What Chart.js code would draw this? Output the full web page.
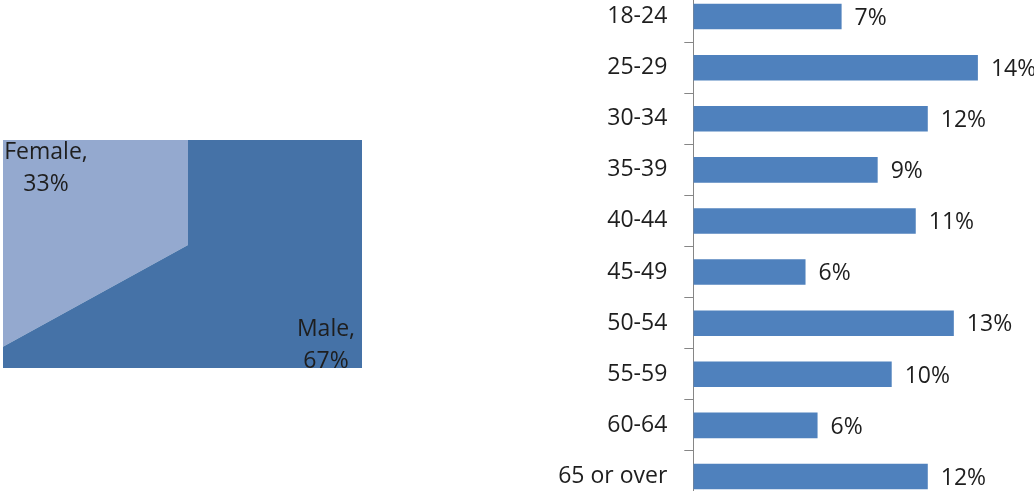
<!DOCTYPE html>
<html>
<head>
<meta charset="utf-8">
<script src="https://cdn.jsdelivr.net/npm/chart.js@4/dist/chart.umd.min.js"></script>
<style>
  html, body { margin: 0; padding: 0; background: #fff; overflow: hidden; }
  body { width: 1034px; height: 491px; position: relative; }
  #pieBox { position: absolute; left: 3px; top: 140px; width: 359px; height: 228px; overflow: hidden; }
  #pie { position: absolute; left: -215px; top: -295px; }
  #bars { position: absolute; left: 540px; top: -9px; }
</style>
</head>
<body>
<div id="pieBox"><canvas id="pie" width="800" height="800"></canvas></div>
<canvas id="bars" width="494" height="511"></canvas>
<script>
// gender split
var genderLabels = ['Female', 'Male'];
var genderValues = [33, 67];
var genderColors = ['#94A9CF', '#4572A7'];

// age bands (percent of respondents)
var ageLabels = ['18-24', '25-29', '30-34', '35-39', '40-44', '45-49', '50-54', '55-59', '60-64', '65 or over'];
var ageValues = [7.4, 14.2, 11.7, 9.2, 11.1, 5.6, 13.0, 9.9, 6.2, 11.7];

var FONT = '"Open Sans", "Liberation Sans", sans-serif';
var FONT_SIZE = 23;
var TEXT = '#1e1e1e';
var AXIS = '#868686';

// pie labels, placed relative to the pie centre
var pieLabels = {
  id: 'pieLabels',
  afterDatasetsDraw: function(chart){
    var ctx = chart.ctx;
    var arc = chart.getDatasetMeta(0).data[0];
    var cx = arc.x, cy = arc.y;
    var spots = [
      { dx: -142, dy: -86 },
      { dx: 138, dy: 91 }
    ];
    ctx.save();
    ctx.font = FONT_SIZE + 'px ' + FONT;
    ctx.fillStyle = TEXT;
    ctx.textAlign = 'center';
    ctx.textBaseline = 'alphabetic';
    for (var i = 0, l = genderLabels.length; i < l; i++) {
      ctx.fillText(genderLabels[i] + ',', cx + spots[i].dx, cy + spots[i].dy);
      ctx.fillText(genderValues[i] + '%', cx + spots[i].dx, cy + spots[i].dy + 32);
    }
    ctx.restore();
  }
};

new Chart(document.getElementById('pie'), {
  type: 'pie',
  data: {
    labels: genderLabels,
    datasets: [{
      data: genderValues,
      backgroundColor: genderColors,
      borderWidth: 0
    }]
  },
  options: {
    responsive: false,
    animation: false,
    rotation: -360 * genderValues[0] / 100,
    layout: { padding: 0 },
    plugins: { legend: { display: false }, tooltip: { enabled: false } }
  },
  plugins: [pieLabels]
});

// value labels to the right of each bar
var barLabels = {
  id: 'barLabels',
  afterDatasetsDraw: function(chart){
    var ctx = chart.ctx;
    var bars = chart.getDatasetMeta(0).data;
    ctx.save();
    ctx.font = FONT_SIZE + 'px ' + FONT;
    ctx.fillStyle = TEXT;
    ctx.textAlign = 'left';
    ctx.textBaseline = 'alphabetic';
    for (var i = 0, l = bars.length; i < l; i++) {
      ctx.fillText(Math.round(ageValues[i]) + '%', bars[i].x + 13, bars[i].y + 8.3);
    }
    ctx.restore();
  }
};

new Chart(document.getElementById('bars'), {
  type: 'bar',
  data: {
    labels: ageLabels,
    datasets: [{
      data: ageValues,
      backgroundColor: '#4F81BD',
      borderWidth: 0,
      barPercentage: 0.5,
      categoryPercentage: 1
    }]
  },
  options: {
    indexAxis: 'y',
    responsive: false,
    animation: false,
    layout: { padding: 0 },
    scales: {
      x: { type: 'linear', display: false, min: 0, max: 17 },
      y: {
        afterFit: function(scale){
          scale.width = 153.3;
          scale.paddingTop = 0;
          scale.paddingBottom = 0;
        },
        border: { display: true, color: AXIS, width: 1 },
        grid: { offset: true, drawOnChartArea: false, drawTicks: true, tickLength: 9, color: AXIS },
        ticks: { color: TEXT, padding: 17, font: { family: FONT, size: FONT_SIZE } }
      }
    },
    plugins: { legend: { display: false }, tooltip: { enabled: false } }
  },
  plugins: [barLabels]
});
</script>
</body>
</html>
